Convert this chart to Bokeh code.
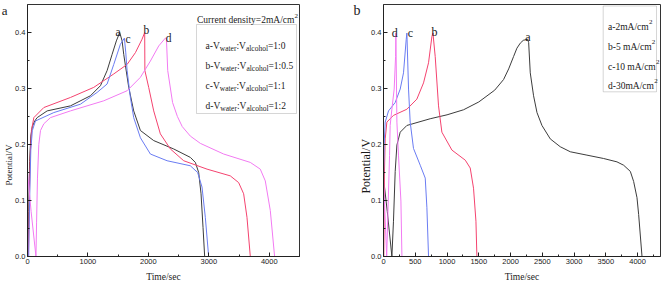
import math
from bokeh.plotting import figure
from bokeh.layouts import row
from bokeh.models import Label, Range1d, FixedTicker, PrintfTickFormatter, BoxAnnotation, LinearAxis
from bokeh.embed import file_html
from bokeh.resources import INLINE

# ---------------- data: panel a (different water:alcohol ratios, 2 mA/cm2) ----------------
a_black_t = [10, 20, 35, 55, 80, 120, 160, 325, 711, 1041, 1207, 1317, 1400, 1470, 1526, 1565, 1592, 1675, 1757, 1868, 2088, 2419, 2694, 2777, 2832, 2871, 2904, 2931]
a_black_v = [0.0, 0.08, 0.17, 0.215, 0.232, 0.242, 0.248, 0.260, 0.269, 0.287, 0.305, 0.332, 0.361, 0.385, 0.40, 0.385, 0.361, 0.302, 0.260, 0.225, 0.207, 0.192, 0.177, 0.168, 0.150, 0.112, 0.052, 0.0]

a_red_t = [15, 30, 45, 65, 105, 270, 711, 1096, 1427, 1648, 1785, 1895, 1939, 1942, 2005, 2088, 2198, 2364, 2584, 2970, 3355, 3493, 3576, 3631, 3686]
a_red_v = [0.0, 0.1, 0.18, 0.225, 0.248, 0.266, 0.284, 0.302, 0.326, 0.343, 0.364, 0.388, 0.40, 0.332, 0.302, 0.260, 0.219, 0.192, 0.171, 0.156, 0.144, 0.132, 0.112, 0.070, 0.0]

a_blue_t = [20, 35, 55, 80, 132, 435, 876, 1152, 1317, 1427, 1537, 1603, 1625, 1648, 1702, 1757, 1868, 2033, 2309, 2694, 2815, 2887, 2942, 2997]
a_blue_v = [0.0, 0.1, 0.19, 0.225, 0.242, 0.257, 0.272, 0.293, 0.308, 0.343, 0.379, 0.39, 0.365, 0.332, 0.284, 0.248, 0.212, 0.183, 0.171, 0.162, 0.150, 0.124, 0.070, 0.0]

a_mag_t = [0, 60, 140, 150, 165, 187, 215, 270, 380, 711, 1261, 1648, 1868, 2033, 2171, 2281, 2298, 2320, 2400, 2480, 2560, 2694, 2860, 3245, 3686, 3851, 3934, 4017, 4088]
a_mag_v = [0.15, 0.08, 0.0, 0.06, 0.14, 0.2, 0.225, 0.237, 0.248, 0.260, 0.278, 0.296, 0.320, 0.349, 0.376, 0.390, 0.390, 0.332, 0.275, 0.250, 0.232, 0.215, 0.202, 0.183, 0.168, 0.156, 0.135, 0.082, 0.0]

# ---------------- data: panel b (different current densities) ----------------
b_black_t = [0, 60, 132, 157, 184, 211, 263, 368, 735, 1000, 1260, 1500, 1750, 1890, 1970, 2047, 2100, 2153, 2200, 2268, 2285, 2310, 2362, 2416, 2494, 2625, 2782, 2940, 3202, 3465, 3675, 3780, 3885, 3937, 3990, 4016, 4069]
b_black_v = [0.14, 0.08, 0.0, 0.063, 0.152, 0.199, 0.222, 0.234, 0.246, 0.253, 0.262, 0.276, 0.297, 0.316, 0.335, 0.357, 0.372, 0.381, 0.386, 0.388, 0.382, 0.328, 0.287, 0.257, 0.234, 0.210, 0.196, 0.187, 0.181, 0.175, 0.169, 0.163, 0.152, 0.134, 0.105, 0.075, 0.0]

b_red_t = [5, 15, 27, 53, 157, 368, 525, 630, 709, 762, 778, 814, 866, 919, 1077, 1287, 1365, 1417, 1455, 1470]
b_red_v = [0.0, 0.15, 0.21, 0.24, 0.252, 0.263, 0.281, 0.310, 0.346, 0.393, 0.399, 0.357, 0.269, 0.222, 0.190, 0.172, 0.158, 0.122, 0.063, 0.0]

b_blue_t = [0, 10, 27, 79, 184, 263, 315, 357, 368, 394, 420, 472, 578, 657, 683, 709]
b_blue_v = [0.13, 0.2, 0.24, 0.26, 0.275, 0.299, 0.328, 0.387, 0.399, 0.299, 0.24, 0.193, 0.163, 0.14, 0.087, 0.0]

b_mag_t = [0, 50, 95, 105, 132, 168, 190, 195, 211, 236, 274, 290]
b_mag_v = [0.14, 0.0, 0.18, 0.234, 0.263, 0.299, 0.357, 0.399, 0.24, 0.181, 0.099, 0.0]

xa_ticks = [0, 1000, 2000, 3000, 4000]
xa_minor = [500, 1500, 2500, 3500, 4500]
xb_ticks = [0, 500, 1000, 1500, 2000, 2500, 3000, 3500, 4000]
xb_minor = [250, 750, 1250, 1750, 2250, 2750, 3250, 3750, 4250]
y_ticks = [0.0, 0.1, 0.2, 0.3, 0.4]
y_minor = [0.05, 0.15, 0.25, 0.35]

legend_a_title = "Current density=2mA/cm"
legend_a_rows = [("a-V", "water", ":V", "alcohol", "=1:0"),
                 ("b-V", "water", ":V", "alcohol", "=1:0.5"),
                 ("c-V", "water", ":V", "alcohol", "=1:1"),
                 ("d-V", "water", ":V", "alcohol", "=1:2")]
legend_b_rows = ["a-2mA/cm", "b-5 mA/cm", "c-10 mA/cm", "d-30mA/cm"]

BLACK = "#3c3c3c"
RED = "#f4436f"
BLUE = "#6a7cf2"
MAG = "#f27af2"

SERIF = "Liberation Serif"
SANS = "Liberation Sans"

TIMES = {'a': 444, 'b': 500, 'c': 444, 'd': 500, 'e': 444, 'h': 500, 'i': 278, 'l': 278, 'm': 778,
         'n': 500, 'o': 500, 'r': 333, 's': 389, 't': 278, 'u': 500, 'w': 722, 'y': 500, 'A': 722,
         'C': 667, 'V': 722, '-': 333, ':': 278, '=': 564, '/': 278, '.': 250, ' ': 250,
         '0': 500, '1': 500, '2': 500, '3': 500, '5': 500}


def tw(s, size):
    return sum(TIMES.get(ch, 500) for ch in s) * size / 1000.0


def make_fig(width, left, right, top, bottom, xmax, xt, xm, **kw):
    p = figure(width=width, height=284, x_range=Range1d(0, xmax), y_range=Range1d(0, 0.45),
               output_backend="svg", toolbar_location=None,
               min_border_left=left, min_border_right=right,
               min_border_top=top, min_border_bottom=bottom, **kw)
    p.xgrid.visible = False
    p.ygrid.visible = False
    p.outline_line_color = "#333333"
    p.outline_line_width = 1
    p.xaxis.ticker = FixedTicker(ticks=xt, minor_ticks=xm)
    p.yaxis.ticker = FixedTicker(ticks=y_ticks, minor_ticks=y_minor)
    p.xaxis.formatter = PrintfTickFormatter(format="%d")
    p.yaxis.formatter = PrintfTickFormatter(format="%.1f")
    for ax in (p.xaxis[0], p.yaxis[0]):
        ax.major_tick_in = 4
        ax.major_tick_out = 0
        ax.minor_tick_in = 2
        ax.minor_tick_out = 0
        ax.axis_line_color = "#222222"
        ax.major_tick_line_color = "#222222"
        ax.minor_tick_line_color = "#222222"
        ax.major_label_text_font = SANS
        ax.major_label_text_font_size = "7.5px"
        ax.major_label_text_color = "#222222"
        ax.major_label_standoff = 2
        ax.axis_label_text_font = SERIF
        ax.axis_label_text_font_style = "normal"
        ax.axis_label_text_color = "#222222"
    p.xaxis.axis_label = "Time/sec"
    p.xaxis.axis_label_text_font_size = "9.5px"
    p.xaxis.axis_label_standoff = 5
    return p


def side_text(p, value, text, size, standoff, angle=None):
    """Text placed in the left border through an extra label-only axis."""
    ax = LinearAxis(ticker=FixedTicker(ticks=[value], minor_ticks=[]),
                    major_label_overrides={value: text},
                    axis_line_color=None, major_tick_line_color=None, minor_tick_line_color=None,
                    major_tick_in=0, major_tick_out=0, minor_tick_in=0, minor_tick_out=0,
                    major_label_text_font=SERIF, major_label_text_font_size=size,
                    major_label_text_color="#1a1a1a", major_label_standoff=standoff)
    if angle is not None:
        ax.major_label_orientation = angle
    p.add_layout(ax, "left")


def lab(p, x, y, text, size, align="left", font=SERIF):
    p.add_layout(Label(x=x, y=y, text=text, text_font=font, text_font_size=size,
                       text_align=align, text_baseline="alphabetic", text_color="#1a1a1a"))


# ---------------- panel a ----------------
SHIFT = 8
A_L, A_R, A_T, A_B, A_XMAX = 27, 299, 4, 256, 4500
pa = make_fig(330 + SHIFT, A_L + SHIFT, 330 - A_R, A_T, 284 - A_B, A_XMAX, xa_ticks, xa_minor,
              margin=(0, 0, 0, -SHIFT))
side_text(pa, 0.2, "Potential/V", "9px", 4, math.pi / 2)
side_text(pa, 0.449, "a", "13px", -12)


def xa(px):
    return (px - A_L) / (A_R - A_L) * A_XMAX


def ya(py):
    return (A_B - py) / (A_B - A_T) * 0.45


for t, v, c in [(a_black_t, a_black_v, BLACK), (a_red_t, a_red_v, RED),
                (a_blue_t, a_blue_v, BLUE), (a_mag_t, a_mag_v, MAG)]:
    pa.line(t, v, line_color=c, line_width=1)

# curve labels
for txt, px, py in [("a", 117.5, 31.7), ("b", 145.8, 29.3), ("c", 127.5, 38.3), ("d", 168, 37.7)]:
    lab(pa, xa(px), ya(py), txt, "11.5px", "center")

# legend a
pa.add_layout(BoxAnnotation(left=xa(196), right=xa(296), top=ya(24), bottom=ya(113),
                            fill_alpha=0, line_color="#777777", line_width=1))
tx = 196.5
lab(pa, xa(tx), ya(19.5), legend_a_title, "9.5px")
lab(pa, xa(tx + tw(legend_a_title, 9.5)), ya(15), "2", "7px")
MAIN, SUB = 9.5, 7.5
for i, segs in enumerate(legend_a_rows):
    base = 45.8 + 20 * i
    x = 205.0
    for j, s in enumerate(segs):
        if j % 2 == 1:
            lab(pa, xa(x), ya(base + 2.5), s, "7.5px")
            x += tw(s, SUB)
        else:
            lab(pa, xa(x), ya(base), s, "9.5px")
            x += tw(s, MAIN)

# ---------------- panel b ----------------
B0 = 330
B_L, B_R, B_T, B_B, B_XMAX = 383, 660, 2, 256, 4360
pb = make_fig(333, B_L - B0, 663 - B_R, B_T, 284 - B_B, B_XMAX, xb_ticks, xb_minor)
side_text(pb, 0.21, "Potential/V", "12px", 2, math.pi / 2)
side_text(pb, 0.439, "b", "14px", -11)


def xb(px):
    return (px - B_L) / (B_R - B_L) * B_XMAX


def yb(py):
    return (B_B - py) / (B_B - B_T) * 0.45


for t, v, c in [(b_black_t, b_black_v, BLACK), (b_red_t, b_red_v, RED),
                (b_blue_t, b_blue_v, BLUE), (b_mag_t, b_mag_v, MAG)]:
    pb.line(t, v, line_color=c, line_width=1)

for txt, px, py in [("d", 394.2, 31), ("c", 409.8, 31), ("b", 434, 30), ("a", 527.5, 34.3)]:
    lab(pb, xb(px), yb(py), txt, "12px", "center")

pb.add_layout(BoxAnnotation(left=xb(602.7), right=xb(656), top=yb(3.5), bottom=yb(90),
                            fill_alpha=0, line_color="#777777", line_width=1))
for i, s in enumerate(legend_b_rows):
    base = 24.5 + 20 * i
    lab(pb, xb(607.5), yb(base), s, "9.5px")
    lab(pb, xb(607.5 + tw(s, 9.5) + 0.3), yb(base - 5), "2", "7px")

layout = row(pa, pb)
open("out.html", "w").write(file_html(layout, INLINE))
